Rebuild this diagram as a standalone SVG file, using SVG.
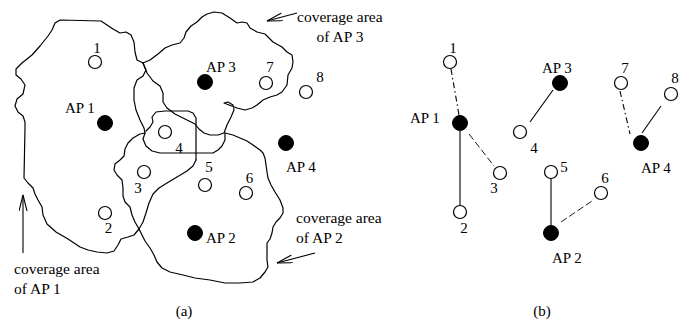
<svg xmlns="http://www.w3.org/2000/svg" width="684" height="324" viewBox="0 0 684 324">
  <style>
    .bg { fill: #ffffff; }
    .contour { fill: none; stroke: #000; stroke-width: 1.2; stroke-linejoin: round; stroke-linecap: round; }
    .sta { fill: #fff; stroke: #000; stroke-width: 1.2; }
    .ap { fill: #000; stroke: #000; stroke-width: 1; }
    .lbl { font-family: "Liberation Serif", "Times New Roman", serif; font-size: 15px; fill: #000; }
    .num { text-anchor: middle; }
    .cap { font-family: "Liberation Serif", "Times New Roman", serif; font-size: 15.5px; fill: #000; }
    .link { fill: none; stroke: #000; stroke-width: 1.1; }
    .dashdot { stroke-dasharray: 6 3 1.5 3; }
    .dashed { stroke-dasharray: 7 3; stroke-width: 0.9; }
    .pointer { fill: none; stroke: #000; stroke-width: 1.1; marker-end: url(#openHead); }
  </style>
  <defs>
    <marker id="openHead" markerUnits="userSpaceOnUse" markerWidth="18" markerHeight="10" refX="16" refY="4" orient="auto" viewBox="0 0 18 10">
      <path d="M0,0 L16,4 L0,8" fill="none" stroke="#000" stroke-width="1.1"/>
    </marker>
  </defs>
  <rect class="bg" x="0" y="0" width="684" height="324"/>

  <!-- (a) coverage areas -->
  <g id="coverage-areas">
    <!-- AP 1 area -->
    <path class="contour" d="M143,63 L137,60 L135,52 L134,42 L131,35 L126,32 L120,33 L113,29 L107,25 L101,21 L60,20 L55,23 L52,30 L48,36 L40,46 L32,55 L22,63 L16,69 L16,75 L21,79 L25,85 L23,94 L17,99 L15,106 L18,112 L23,116 L25,122 L25,128 L24,178 L28,183 L33,188 L35,194 L38,200 L42,207 L43,215 L47,224 L56,232 L68,239 L80,247 L88,250 L97,252 L107,253 L114,251 L118,245 L121,239 L128,237 L134,235 L139,229 L143,222 L146,213 L149,203 L153,194 L159,188 L167,183 L177,177 L187,171 L193,166 L196,160"/>
    <!-- AP 3 area -->
    <path class="contour" d="M143,63 L147,73 L153,81 L160,86 L163,93 L163,102 L167,108 L175,114 L187,120 L195,124 L199,129 L204,133 L210,135 L218,135 L224,133 L227,125 L231,117 L234,110 L233,105 L228,102 L224,103 L229,105 L237,108 L245,110 L252,108 L257,105 L263,100 L270,97 L277,95 L282,92 L287,85 L288,75 L292,68 L293,62 L292,55 L287,52 L282,47 L273,42 L265,34 L257,32 L250,28 L247,23 L242,22 L237,23 L230,18 L222,13 L214,12 L207,14 L202,17 L197,22 L191,26 L186,32 L184,38 L180,43 L172,45 L165,48 L158,54 L150,60 L143,63"/>
    <path class="contour" d="M143,63 L146,70 L143,76 L137,80 L134,88 L134,100 L136,110 L140,120 L144,128 L145,133"/>
    <!-- AP 2 area -->
    <path class="contour" d="M145,133 L140,134 L133,138 L128,143 L125,149 L124,156 L120,160 L115,164 L114,170 L117,175 L122,180 L123,188 L123,196 L125,202 L130,207 L132,215 L135,222 L139,229 L145,241 L150,248 L154,255 L157,262 L162,268 L170,272 L183,275 L195,278 L210,280 L225,283 L240,283 L253,282 L260,278 L265,272 L268,267 L267,260 L267,250 L267,243 L270,239 L272,233 L273,227 L276,222 L280,218 L283,213 L283,208 L280,200 L275,192 L271,185 L268,178 L267,172 L266,165 L265,158 L263,153 L260,150 L253,145 L247,141 L240,138 L233,135 L225,133"/>
    <!-- overlap pocket around station 4 -->
    <path class="contour" d="M146,131 L150,127 L153,122 L152,117 L156,112 L165,111 L188,111 L193,113 L196,118 L196,127 L196,160"/>
    <path class="contour" d="M145,133 L143,139 L146,146 L152,151 L160,153 L213,153 L218,150 L222,146 L225,140 L225,133"/>
  </g>

  <!-- (a) pointers to the coverage areas -->
  <g id="pointers">
    <line class="pointer" x1="297" y1="13" x2="267" y2="21"/>
    <line class="pointer" x1="315" y1="253" x2="277" y2="263"/>
    <line class="pointer" x1="23" y1="253" x2="23" y2="195"/>
    <text class="cap" x="297" y="22">coverage area</text>
    <text class="cap" x="340" y="42" text-anchor="middle">of AP 3</text>
    <text class="cap" x="296" y="223">coverage area</text>
    <text class="cap" x="296" y="243">of AP 2</text>
    <text class="cap" x="14" y="274">coverage area</text>
    <text class="cap" x="14" y="294">of AP 1</text>
  </g>

  <!-- (a) stations and access points -->
  <g id="a-n1"><circle class="sta" cx="95" cy="62" r="6.5"/><text class="lbl num" x="97" y="53">1</text></g>
  <g id="a-ap1"><circle class="ap" cx="105" cy="123" r="7.5"/><text class="lbl" x="65" y="113">AP 1</text></g>
  <g id="a-ap3"><circle class="ap" cx="205" cy="82" r="7.5"/><text class="lbl" x="206" y="72">AP 3</text></g>
  <g id="a-n7"><circle class="sta" cx="266" cy="83" r="6.5"/><text class="lbl num" x="270" y="72">7</text></g>
  <g id="a-n8"><circle class="sta" cx="306" cy="92" r="6.5"/><text class="lbl num" x="320" y="82">8</text></g>
  <g id="a-ap4"><circle class="ap" cx="286" cy="143" r="7.5"/><text class="lbl" x="286" y="172">AP 4</text></g>
  <g id="a-n4"><circle class="sta" cx="165" cy="132" r="6.5"/><text class="lbl num" x="179" y="153">4</text></g>
  <g id="a-n5"><circle class="sta" cx="205" cy="185" r="6.5"/><text class="lbl num" x="209" y="172">5</text></g>
  <g id="a-n6"><circle class="sta" cx="246" cy="193" r="6.5"/><text class="lbl num" x="249.5" y="183">6</text></g>
  <g id="a-n3"><circle class="sta" cx="144" cy="172" r="6.5"/><text class="lbl num" x="138" y="193">3</text></g>
  <g id="a-n2"><circle class="sta" cx="105" cy="213" r="6.5"/><text class="lbl num" x="108.5" y="233">2</text></g>
  <g id="a-ap2"><circle class="ap" cx="195" cy="233" r="7.5"/><text class="lbl" x="206" y="243">AP 2</text></g>
  <text class="lbl num" x="184" y="316">(a)</text>

  <!-- (b) associations -->
  <g id="connectors">
    <line class="link dashdot" x1="451" y1="69" x2="459" y2="115"/>
    <line class="link" x1="460" y1="131" x2="460" y2="205"/>
    <line class="link dashed" x1="469" y1="134" x2="494" y2="166"/>
    <line class="link" x1="553" y1="90" x2="530" y2="122"/>
    <line class="link" x1="551" y1="179" x2="551" y2="225"/>
    <line class="link dashed" x1="561" y1="222" x2="592" y2="201"/>
    <line class="link dashdot" x1="620" y1="91" x2="630" y2="134"/>
    <line class="link" x1="642" y1="133" x2="661" y2="106"/>
  </g>

  <!-- (b) stations and access points -->
  <g id="b-n1"><circle class="sta" cx="450" cy="62" r="6.5"/><text class="lbl num" x="453" y="53">1</text></g>
  <g id="b-ap1"><circle class="ap" cx="460" cy="123" r="7.5"/><text class="lbl" x="410" y="123">AP 1</text></g>
  <g id="b-n2"><circle class="sta" cx="460" cy="212" r="6.5"/><text class="lbl num" x="464" y="233">2</text></g>
  <g id="b-n3"><circle class="sta" cx="500" cy="173" r="6.5"/><text class="lbl num" x="494" y="193">3</text></g>
  <g id="b-ap3"><circle class="ap" cx="560" cy="83" r="7.5"/><text class="lbl" x="542" y="73">AP 3</text></g>
  <g id="b-n4"><circle class="sta" cx="520" cy="132" r="6.5"/><text class="lbl num" x="534" y="153">4</text></g>
  <g id="b-n5"><circle class="sta" cx="551" cy="172" r="6.5"/><text class="lbl num" x="564" y="172">5</text></g>
  <g id="b-n6"><circle class="sta" cx="601" cy="193" r="6.5"/><text class="lbl num" x="605" y="183">6</text></g>
  <g id="b-ap2"><circle class="ap" cx="551" cy="233" r="7.5"/><text class="lbl" x="552" y="263">AP 2</text></g>
  <g id="b-n7"><circle class="sta" cx="621" cy="83" r="6.5"/><text class="lbl num" x="625" y="73">7</text></g>
  <g id="b-n8"><circle class="sta" cx="671" cy="94" r="6.5"/><text class="lbl num" x="675" y="83">8</text></g>
  <g id="b-ap4"><circle class="ap" cx="641" cy="143" r="7.5"/><text class="lbl" x="641" y="173">AP 4</text></g>
  <text class="lbl num" x="542" y="316">(b)</text>
</svg>
